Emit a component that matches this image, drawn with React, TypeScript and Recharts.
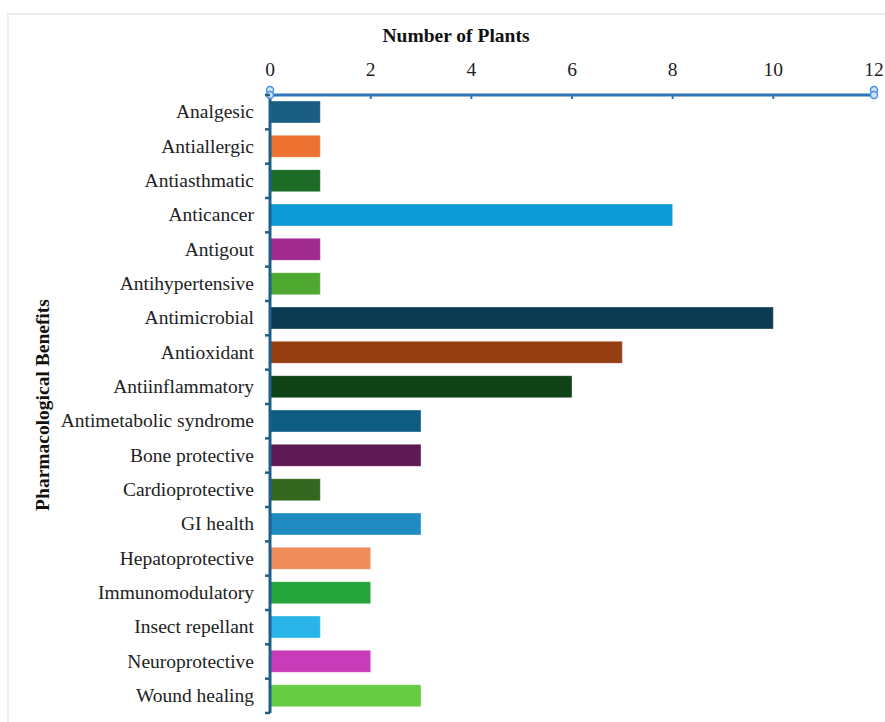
import { BarChart, Bar, XAxis, YAxis, Cell } from "recharts";

const benefits = [
  "Analgesic",
  "Antiallergic",
  "Antiasthmatic",
  "Anticancer",
  "Antigout",
  "Antihypertensive",
  "Antimicrobial",
  "Antioxidant",
  "Antiinflammatory",
  "Antimetabolic syndrome",
  "Bone protective",
  "Cardioprotective",
  "GI health",
  "Hepatoprotective",
  "Immunomodulatory",
  "Insect repellant",
  "Neuroprotective",
  "Wound healing",
];

const plantCounts = [1, 1, 1, 8, 1, 1, 10, 7, 6, 3, 3, 1, 3, 2, 2, 1, 2, 3];

const barColors = [
  "#1b5e84",
  "#ed7232",
  "#1e6b27",
  "#0e9ad6",
  "#a12a8e",
  "#4fa82f",
  "#0c3a52",
  "#963e11",
  "#0f4317",
  "#0f5c82",
  "#5e1a52",
  "#33661f",
  "#1f8bc0",
  "#ee8c5a",
  "#26a43c",
  "#2ab4ea",
  "#c93cb9",
  "#66cc44",
];

const xTicks = [0, 2, 4, 6, 8, 10, 12];

const data = benefits.map((name, i) => ({ name, count: plantCounts[i] }));

const W = 885;
const H = 722;
const TOP = 95;
const BOTTOM = 713;
const BAND = (BOTTOM - TOP) / benefits.length;
const FONT = '"Liberation Serif", "Times New Roman", serif';
const FONT_SIZE = 19.5;
const X_AXIS_COLOR = "#2e75b6";
const Y_AXIS_COLOR = "#1f5f8a";

function XTick({ x, y, payload }: any) {
  const v = payload.value;
  const isEnd = v === xTicks[0] || v === xTicks[xTicks.length - 1];
  return (
    <g>
      <text x={x} y={y - 19} textAnchor="middle" fontFamily={FONT} fontSize={FONT_SIZE} fill="#222">
        {v}
      </text>
      {!isEnd && <line x1={x} x2={x} y1={y} y2={y + 4} stroke={X_AXIS_COLOR} strokeWidth={2} />}
      {isEnd && (
        <g fill="#cfe3f7" stroke="#4a90e2" strokeWidth={1.5}>
          <circle cx={x} cy={y - 5} r={3.5} />
          <circle cx={x} cy={y} r={3.5} />
        </g>
      )}
    </g>
  );
}

function YTick({ x, y, payload, index }: any) {
  return (
    <g>
      <text
        x={x - 16}
        y={y}
        dy={6}
        textAnchor="end"
        fontFamily={FONT}
        fontSize={FONT_SIZE}
        fill="#222"
      >
        {payload.value}
      </text>
      {index === 0 && (
        <line x1={x - 5} x2={x} y1={y - BAND / 2} y2={y - BAND / 2} stroke={Y_AXIS_COLOR} strokeWidth={2.5} />
      )}
      <line x1={x - 5} x2={x} y1={y + BAND / 2} y2={y + BAND / 2} stroke={Y_AXIS_COLOR} strokeWidth={2.5} />
    </g>
  );
}

export default function App() {
  return (
    <div style={{ position: "fixed", left: 0, top: 0, width: W, height: H, background: "#fff", overflow: "hidden" }}>
      <div
        style={{
          position: "absolute",
          left: 7,
          top: 13,
          width: W + 20,
          height: H + 20,
          border: "2px solid #ececec",
        }}
      />
      <div
        style={{
          position: "absolute",
          left: 0,
          top: 25,
          width: 912,
          textAlign: "center",
          fontFamily: FONT,
          fontWeight: "bold",
          fontSize: FONT_SIZE,
          color: "#111",
        }}
      >
        Number of Plants
      </div>
      <div
        style={{
          position: "absolute",
          left: 43,
          top: 405,
          transform: "translate(-50%, -50%) rotate(-90deg)",
          whiteSpace: "nowrap",
          fontFamily: FONT,
          fontWeight: "bold",
          fontSize: FONT_SIZE,
          color: "#111",
        }}
      >
        Pharmacological Benefits
      </div>
      <div style={{ position: "absolute", left: 0, top: 0 }}>
        <BarChart
          width={W}
          height={H}
          data={data}
          layout="vertical"
          margin={{ top: TOP - 30, right: 11, left: 20, bottom: H - BOTTOM }}
        >
          <XAxis
            type="number"
            orientation="top"
            domain={[0, 12]}
            ticks={xTicks}
            height={30}
            tickSize={0}
            tickMargin={0}
            tick={<XTick />}
            axisLine={{ stroke: X_AXIS_COLOR, strokeWidth: 3 }}
            tickLine={false}
            interval={0}
          />
          <YAxis
            type="category"
            dataKey="name"
            width={250}
            tickSize={0}
            tickMargin={0}
            tick={<YTick />}
            tickLine={false}
            axisLine={{ stroke: Y_AXIS_COLOR, strokeWidth: 3 }}
            interval={0}
          />
          <Bar dataKey="count" barSize={22} isAnimationActive={false}>
            {data.map((d, i) => (
              <Cell key={d.name} fill={barColors[i]} stroke="rgba(255,255,255,0.35)" strokeWidth={1} />
            ))}
          </Bar>
        </BarChart>
      </div>
    </div>
  );
}
